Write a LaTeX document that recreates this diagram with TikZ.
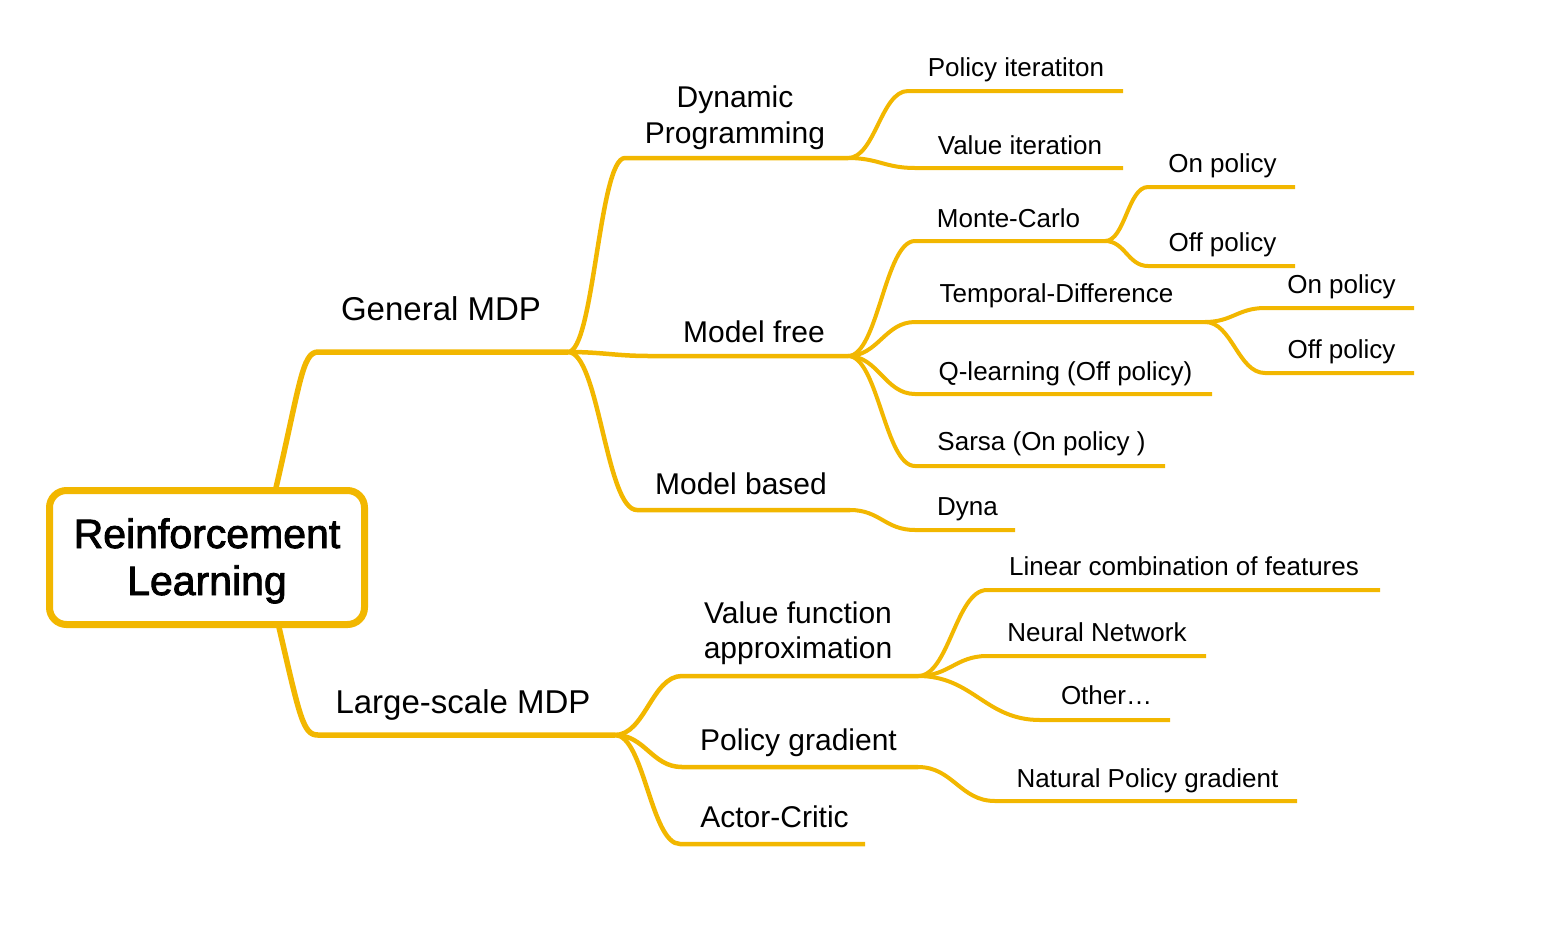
\documentclass[tikz,border=0pt]{standalone}
\usepackage{fontspec}
\setmainfont{Liberation Sans}
\newfontfamily\rootfont[FakeBold=2]{Liberation Sans}
\definecolor{mm}{HTML}{F2B700}
\newcommand\fsA{\fontsize{33}{38}\selectfont}
\newcommand\fsB{\fontsize{30}{36}\selectfont}
\newcommand\fsC{\fontsize{26}{30}\selectfont}
\tikzset{
  brA/.style={draw=mm, line width=5.5pt, line join=round},
  brB/.style={draw=mm, line width=4.5pt, line join=round},
  brC/.style={draw=mm, line width=4pt, line join=round},
  lA/.style={anchor=base, inner sep=0pt, font=\fsA, align=center},
  lB/.style={anchor=base, inner sep=0pt, font=\fsB, align=center},
  lC/.style={anchor=base, inner sep=0pt, font=\fsC, align=center},
}
\begin{document}
\begin{tikzpicture}[x=1pt,y=-1pt]
\useasboundingbox (0,0) rectangle (1542,938);
% junction coordinates
\coordinate (rt) at (275,492);
\coordinate (rb) at (278,623);
\coordinate (g1s) at (318,352); \coordinate (g1e) at (568,352);
\coordinate (l1s) at (318,735); \coordinate (l1e) at (615,735);
\coordinate (dps) at (625,158); \coordinate (dpe) at (848,158);
\coordinate (mfs) at (650,356); \coordinate (mfe) at (848,356);
\coordinate (mbs) at (637,510); \coordinate (mbe) at (850,510);
\coordinate (pis) at (908,91);  \coordinate (pie) at (1123,91);
\coordinate (vis) at (915,168); \coordinate (vie) at (1123,168);
\coordinate (mcs) at (915,241); \coordinate (mce) at (1105,241);
\coordinate (tds) at (915,322); \coordinate (tde) at (1205,322);
\coordinate (qls) at (915,394); \coordinate (qle) at (1212,394);
\coordinate (sas) at (915,466); \coordinate (sae) at (1165,466);
\coordinate (dys) at (915,530); \coordinate (dye) at (1015,530);
\coordinate (mons) at (1148,187); \coordinate (mone) at (1295,187);
\coordinate (mofs) at (1148,266); \coordinate (mofe) at (1295,266);
\coordinate (tons) at (1265,308); \coordinate (tone) at (1414,308);
\coordinate (tofs) at (1265,373); \coordinate (tofe) at (1414,373);
\coordinate (vfs) at (682,676); \coordinate (vfe) at (918,676);
\coordinate (pgs) at (682,767); \coordinate (pge) at (918,767);
\coordinate (acs) at (680,844); \coordinate (ace) at (865,844);
\coordinate (lcs) at (987,590); \coordinate (lce) at (1380,590);
\coordinate (nns) at (987,656); \coordinate (nne) at (1206,656);
\coordinate (ots) at (1040,720); \coordinate (ote) at (1170,720);
\coordinate (nps) at (995,801); \coordinate (npe) at (1297,801);
% level 1
\draw[brA] (rt) .. controls (300,385) and (302,352) .. (g1s) -- (g1e);
\draw[brA] (rb) .. controls (300,718) and (303,735) .. (l1s) -- (l1e);
% root
\node[draw=mm, line width=7pt, rounded corners=17pt, minimum width=315pt, minimum height=134pt, inner sep=0pt, fill=white] (rl) at (207,557.5) {};
\node[anchor=base, inner sep=0pt, align=center, font={\rootfont\fontsize{41}{47}\selectfont}] (rlt) at (207,595) {Reinforcement\\Learning};
% general MDP children
\draw[brB] (g1e) .. controls +(26,0) and +(-26,0) .. (dps) -- (dpe);
\draw[brB] (g1e) .. controls +(35,0) and +(-35,0) .. (mfs) -- (mfe);
\draw[brB] (g1e) .. controls +(31,0) and +(-31,0) .. (mbs) -- (mbe);
% DP children
\draw[brC] (dpe) .. controls +(27,0) and +(-27,0) .. (pis) -- (pie);
\draw[brC] (dpe) .. controls +(30,0) and +(-30,0) .. (vis) -- (vie);
% model free children
\draw[brC] (mfe) .. controls +(30,0) and +(-30,0) .. (mcs) -- (mce);
\draw[brC] (mfe) .. controls +(30,0) and +(-30,0) .. (tds) -- (tde);
\draw[brC] (mfe) .. controls +(30,0) and +(-30,0) .. (qls) -- (qle);
\draw[brC] (mfe) .. controls +(30,0) and +(-30,0) .. (sas) -- (sae);
% model based child
\draw[brC] (mbe) .. controls +(30,0) and +(-30,0) .. (dys) -- (dye);
% MC children
\draw[brC] (mce) .. controls +(20,0) and +(-20,0) .. (mons) -- (mone);
\draw[brC] (mce) .. controls +(20,0) and +(-20,0) .. (mofs) -- (mofe);
% TD children
\draw[brC] (tde) .. controls +(27,0) and +(-27,0) .. (tons) -- (tone);
\draw[brC] (tde) .. controls +(27,0) and +(-27,0) .. (tofs) -- (tofe);
% large-scale children
\draw[brB] (l1e) .. controls +(30,0) and +(-30,0) .. (vfs) -- (vfe);
\draw[brB] (l1e) .. controls +(30,0) and +(-30,0) .. (pgs) -- (pge);
\draw[brB] (l1e) .. controls +(29,0) and +(-29,0) .. (acs) -- (ace);
% VFA children
\draw[brC] (vfe) .. controls +(31,0) and +(-31,0) .. (lcs) -- (lce);
\draw[brC] (vfe) .. controls +(31,0) and +(-31,0) .. (nns) -- (nne);
\draw[brC] (vfe) .. controls +(55,0) and +(-55,0) .. (ots) -- (ote);
% PG child
\draw[brC] (pge) .. controls +(35,0) and +(-35,0) .. (nps) -- (npe);
% labels
\node[lA] (gm) at (441,320) {General MDP};
\node[lA] (lm) at (463,713) {Large-scale MDP};
\node[lB] (dp) at (735,143) {Dynamic\\Programming};
\node[lB] (mf) at (754,342) {Model free};
\node[lB] (mb) at (741,494) {Model based};
\node[lC] (pi) at (1016,76) {Policy iteratiton};
\node[lC] (vi) at (1020,154) {Value iteration};
\node[lC] (mc) at (1008.5,227) {Monte-Carlo};
\node[lC] (td) at (1056.5,302) {Temporal-Difference};
\node[lC] (ql) at (1065.5,380) {Q-learning (Off policy)};
\node[lC] (sa) at (1041.5,450) {Sarsa (On policy )};
\node[lC] (dy) at (967.5,515) {Dyna};
\node[lC] (mon) at (1222.5,172) {On policy};
\node[lC] (mof) at (1222.5,251) {Off policy};
\node[lC] (ton) at (1341.5,293) {On policy};
\node[lC] (tof) at (1341.5,358) {Off policy};
\node[lB, font=\fontsize{30}{35}\selectfont] (vf) at (798,658) {Value function\\approximation};
\node[lB] (pg) at (798.5,750) {Policy gradient};
\node[lB] (ac) at (774.5,827) {Actor-Critic};
\node[lC] (lc) at (1184,575) {Linear combination of features};
\node[lC] (nn) at (1097,641) {Neural Network};
\node[lC] (ot) at (1106.5,704) {Other…};
\node[lC] (np) at (1147.5,787) {Natural Policy gradient};
\end{tikzpicture}
\end{document}
